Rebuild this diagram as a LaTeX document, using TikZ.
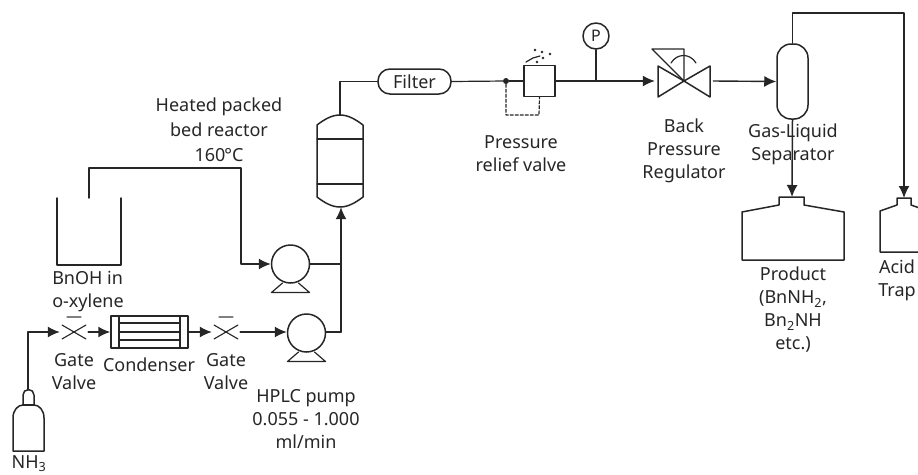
\documentclass[tikz,border=0pt]{standalone}
\usepackage{fontspec}
\setmainfont{Noto Sans}
\usetikzlibrary{arrows.meta}
\definecolor{ink}{HTML}{262626}
\tikzset{
    pipe/.style={line width=1.5pt,draw=ink},
    flow/.style={pipe,-{Latex[length=12pt,width=11pt]}},
    pumpbody/.style={circle,pipe,inner sep=0pt,minimum size=38pt},
    holder/.style={inner sep=0pt,minimum width=#1,minimum height=14pt},
    lbl/.style={align=center,text=ink,inner sep=0pt,font=\fontsize{18}{23}\selectfont}
}
\begin{document}
\begin{tikzpicture}[x=1pt,y=-1pt,line join=round,cap=round]
        \useasboundingbox (0,0) rectangle (918,474);
        \clip (0,0) rectangle (918,474);

        % equipment that carries a connector
        \node[holder=28pt] (gatea) at (74,332) {};
        \node[holder=28pt] (gateb) at (226,332) {};
        \node[pipe,draw,minimum width=77pt,minimum height=32pt,inner sep=0pt] (condenser) at (149.5,332) {};
        \node[pumpbody,draw] (pumpa) at (290.5,264) {};
        \node[pumpbody,draw] (pumpb) at (306.5,333) {};
        \node[holder=46pt,minimum height=92pt] (reactor) at (340,161) {};
        \node[pipe,draw,rounded corners=12pt,minimum width=73pt,minimum height=25pt,inner sep=0pt,
              text=ink,font=\fontsize{18}{20}\selectfont] (filter) at (414.5,81.5) {Filter};
        \node[circle,fill=ink,inner sep=0pt,minimum size=6pt] (tap) at (506,81) {};
        \node[pipe,draw,minimum size=31pt,inner sep=0pt] (relief) at (539.5,81) {};
        \node[circle,pipe,draw,inner sep=0pt,minimum size=26pt,text=ink,font=\fontsize{16}{16}\selectfont] (gauge) at (596,36) {P};
        \node[holder=58pt] (bpr) at (684,81) {};
        \node[pipe,draw,rounded corners=14pt,minimum width=31pt,minimum height=75pt,inner sep=0pt] (separator) at (792.5,81.5) {};
        \coordinate (nhneck) at (28,390);
        \coordinate (feed) at (89,198);
        \coordinate (junction) at (341,332);
        \coordinate (productneck) at (792,197);
        \coordinate (trapneck) at (904,198);

        % beaker
        \draw[pipe] (57,198) -- (57,265) -- (121,265) -- (121,198);

        % gas cylinder
        \draw[pipe] (13,451) -- (13,418) .. controls (13,410) and (18,405) .. (23,405)
            -- (23,395) arc[start angle=180,end angle=0,radius=5.5pt]
            -- (34,405) .. controls (39,405) and (44,410) .. (44,418) -- (44,451) -- cycle;
        \draw[pipe] (23,405) -- (34,405);

        % gate valves
        \foreach \v in {gatea,gateb} {
                \draw[pipe,line width=1.1pt] (\v) ++(-12,-7) -- ++(24,14);
                \draw[pipe,line width=1.1pt] (\v) ++(-12,7) -- ++(24,-14);
                \draw[pipe,line width=1.1pt,draw=gray] (\v) ++(-7,-15) -- ++(14,0);
        }

        % condenser tubes
        \draw[pipe] (119,316) -- (119,348);
        \draw[pipe] (180,316) -- (180,348);
        \draw[pipe] (119,323) -- (180,323);
        \draw[pipe,line width=2.4pt] (119,332) -- (180,332);
        \draw[pipe] (119,340) -- (180,340);

        % pump feet
        \foreach \p in {pumpa,pumpb} {
                \draw[pipe,line width=1.2pt] (\p) ++(-8,19) -- ++(-11,9.5) -- ++(38,0) -- ++(-11,-9.5);
        }

        % packed bed
        \draw[pipe] (317,125) .. controls (325,119) and (332,115) .. (340,115)
            .. controls (348,115) and (355,119) .. (363,125)
            -- (363,197) .. controls (355,203) and (348,207) .. (340,207)
            .. controls (332,207) and (325,203) .. (317,197) -- cycle;
        \draw[pipe,line width=1.2pt] (317,139) -- (363,139);
        \draw[pipe,line width=1.2pt] (317,184) -- (363,184);

        % vent of the relief valve
        \foreach \x/\y in {550/54,542/52,535/50,543/58,537/62} {
                \filldraw[ink] (\x,\y) circle(1.2pt);
        }
        \draw[pipe,line width=1.2pt] (526,62) -- (533,58) -- (540,56);

        % back pressure regulator
        \draw[pipe] (bpr.center) -- ++(-26,-15) -- ++(0,31) -- cycle;
        \draw[pipe] (bpr.center) -- ++(26,-15) -- ++(0,31) -- cycle;
        \draw[pipe,line width=1.2pt] (bpr.center) -- ++(-32,-32) -- ++(32,0) -- cycle;
        \draw[pipe,line width=1.2pt] (671,63) .. controls (677,53) and (690,53) .. (696,63);

        % collecting bottles
        \draw[pipe] (742,260) -- (742,212) -- (779,205) -- (779,197) -- (804,197) -- (804,205)
            -- (844,212) -- (844,260) -- cycle;
        \draw[pipe] (880,252) -- (880,211) -- (897,205) -- (897,198) -- (911,198) -- (911,205)
            -- (928,211) -- (928,252) -- cycle;

        % connectors
        \draw[flow] (nhneck) |- (gatea.west);
        \draw[flow] (gatea.east) -- (condenser.west);
        \draw[flow] (condenser.east) -- (gateb.west);
        \draw[flow] (gateb.east) -- (pumpb.west |- gateb);
        \draw[flow] (feed) |- (241,168) |- (pumpa.west);
        \draw[pipe] (pumpa.east) -- (pumpa.east -| junction);
        \draw[pipe] (pumpb.east |- junction) -- (junction);
        \draw[flow] (junction) -- (junction |- reactor.south);
        \draw[pipe] (reactor.north) |- (filter.west);
        \draw[pipe,line width=1.2pt] (filter.east) -- (tap);
        \draw[pipe,line width=1.2pt] (tap) -- (relief.west);
        \draw[pipe,line width=1.2pt,densely dashed] (tap) |- (539,115) -- (relief.south);
        \draw[pipe,line width=1.2pt] (gauge.south) -- (gauge |- relief);
        \draw[flow,line width=1.4pt] (relief.east) -- (bpr.west);
        \draw[flow,line width=1.4pt] (bpr.east) -- (separator.west);
        \draw[flow] (separator.north) |- (904,13) -- (trapneck);
        \draw[flow] (separator.south) -- (productneck);

        % labels
        \node[lbl,font=\fontsize{18}{25}\selectfont] (reactortext) at (219,130) {Heated packed\\bed reactor\\160\kern-1pt°C};
        \node[lbl,align=left] (bnohtext) at (88,292) {BnOH in\\o-xylene};
        \node[lbl] (gateatext) at (74,372) {Gate\\Valve};
        \node[lbl] (condensertext) at (149,365) {Condenser};
        \node[lbl] (gatebtext) at (226,372) {Gate\\Valve};
        \node[lbl] (pumptext) at (306,419) {HPLC pump\\0.055 - 1.000\\ml/min};
        \node[lbl] (relieftext) at (521,154) {Pressure\\relief valve};
        \node[lbl] (bprtext) at (684,151) {Back\\Pressure\\Regulator};
        \node[lbl] (separatortext) at (793,144) {Gas-Liquid\\Separator};
        \node[lbl] (producttext) at (793,310) {Product\\(BnNH\textsubscript{2},\\Bn\textsubscript{2}NH\\etc.)};
        \node[lbl] (traptext) at (897,280) {Acid\\Trap};
        \node[lbl] (nhtext) at (29,464) {NH\textsubscript{3}};
\end{tikzpicture}
\end{document}
